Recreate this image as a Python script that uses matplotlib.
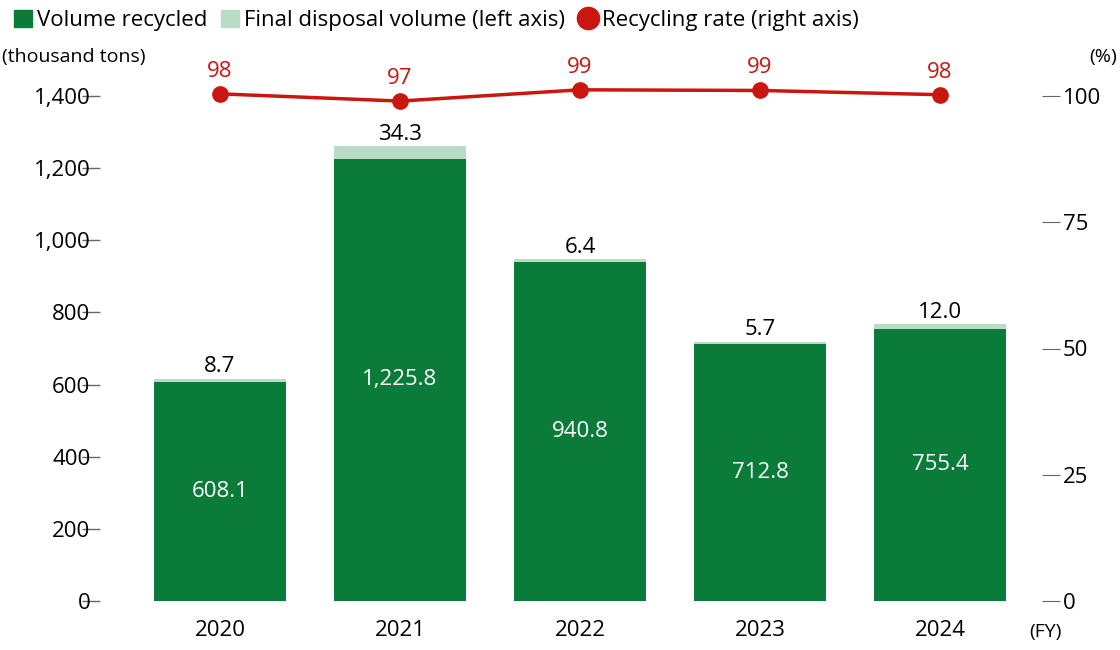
import matplotlib
matplotlib.use("Agg")
import matplotlib.pyplot as plt

years = ["2020", "2021", "2022", "2023", "2024"]
recycled = [608.1, 1225.8, 940.8, 712.8, 755.4]
disposal = [8.7, 34.3, 6.4, 5.7, 12.0]
rate_labels = ["98", "97", "99", "99", "98"]

plt.rcParams['font.family'] = ['Open Sans', 'DejaVu Sans']
FS = 16
GREEN = "#0b7b3a"
LIGHT = "#b8dcc6"
RED = "#c9160f"

W, H = 1120, 650
fig = plt.figure(figsize=(W/100, H/100), dpi=100)
L, R, B, T = 82, 1060, 601, 96
ax = fig.add_axes([L/W, 1-B/H, (R-L)/W, (B-T)/H])
x = list(range(len(years)))
ax.bar(x, recycled, width=0.733, color=GREEN)
ax.bar(x, disposal, bottom=recycled, width=0.733, color=LIGHT)
ax.set_xlim(-0.767, 4.667)
ax.set_ylim(0, 1400)
for s in ax.spines.values():
    s.set_visible(False)
ax.set_yticks(range(0, 1401, 200))
ax.set_yticklabels([f"{v:,}" for v in range(0, 1401, 200)], fontsize=FS)
ax.tick_params(axis='y', direction='in', length=13, width=1, color='#666666', pad=-6)
for lbl in ax.get_yticklabels():
    lbl.set_horizontalalignment('right')
ax.set_xticks(x)
ax.set_xticklabels(years, fontsize=FS)
ax.tick_params(axis='x', length=0, pad=14)

for i in x:
    ax.text(i, recycled[i]/2, f"{recycled[i]:,.1f}", color='white', ha='center', va='center', fontsize=FS)
    ax.text(i, recycled[i]+disposal[i]+4, f"{disposal[i]:.1f}", color='black', ha='center', va='bottom', fontsize=FS)

ax2 = ax.twinx()
ax2.set_ylim(0, 100)
for s in ax2.spines.values():
    s.set_visible(False)
ax2.set_yticks([0, 25, 50, 75, 100])
ax2.set_yticklabels(["0", "25", "50", "75", "100"], fontsize=FS)
ax2.tick_params(axis='y', direction='in', length=13, color='#666666', pad=2)

ax3 = fig.add_axes(ax.get_position(), frameon=False)
rates = [r/(r+d)*100 for r, d in zip(recycled, disposal)]
ax3.set_xlim(ax.get_xlim())
ax3.set_ylim(6.4, 98.2)
ax3.plot(x, rates, color=RED, lw=2.5, marker='o', ms=11, clip_on=False)
for i in x:
    ax3.text(i, rates[i]+2.2, rate_labels[i], color=RED, ha='center', va='bottom', fontsize=FS)
ax3.set_xticks([]); ax3.set_yticks([])

fig.text(2/W, 1-57/H, "(thousand tons)", fontsize=14, va='center', ha='left')
fig.text(1117/W, 1-57/H, "(%)", fontsize=14, va='center', ha='right')
fig.text(1062/W, 1-632/H, "(FY)", fontsize=14, va='center', ha='right')

# legend
fig.legend(handles=[
    plt.Rectangle((0,0),1,1,color=GREEN),
    plt.Rectangle((0,0),1,1,color=LIGHT),
    plt.Line2D([],[],color=RED,marker='o',ls='',ms=16)],
    labels=["Volume recycled", "Final disposal volume (left axis)", "Recycling rate (right axis)"],
    loc='upper left', bbox_to_anchor=(-6/W, 1.015), ncol=3, frameon=False, fontsize=FS,
    handlelength=0.8, handleheight=0.8, handletextpad=0.25, columnspacing=0.6)

fig.savefig("out.png", dpi=100)
